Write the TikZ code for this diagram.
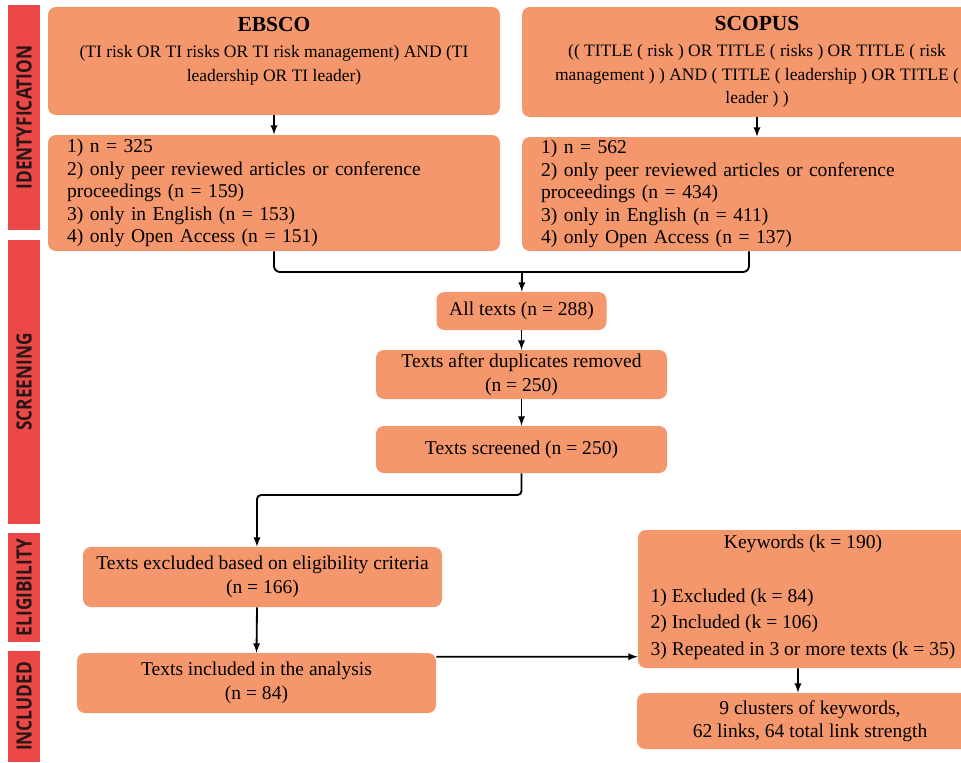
\documentclass[tikz,border=0pt]{standalone}
\usepackage{tikz}
\usepackage{fontspec}
\setmainfont{Liberation Serif}
\newfontfamily\barfont[FakeStretch=0.82]{Open Sans}
\usetikzlibrary{arrows}
\definecolor{prisma_orange}{RGB}{244, 151, 108}
\definecolor{prisma_red}{RGB}{236, 72, 72}
\definecolor{prisma_ink}{RGB}{40, 22, 22}
\tikzstyle{bar}=[rectangle,fill=prisma_red,rotate=90,minimum height=0.8cm,
  inner sep=0pt,text=prisma_ink,font=\barfont\bfseries\fontsize{15}{18}\selectfont]
\tikzstyle{box}=[rectangle,rounded corners=0.2cm,fill=prisma_orange,inner sep=0pt,
  align=center,font=\fontsize{13.9}{16.7}\selectfont]
\tikzstyle{listbox}=[box,align=left,inner xsep=0.475cm,font=\fontsize{13.9}{16}\selectfont]
\tikzstyle{query}=[box,font=\fontsize{12.45}{16.7}\selectfont]
\tikzstyle{arr}=[-latex,line width=1.3pt]
\tikzstyle{wire}=[line width=1.3pt]
\tikzstyle{none}=[]

\begin{document}
\begin{tikzpicture}
	\useasboundingbox (0, 0) rectangle (24.025, -19.05);
	\node [style=bar, minimum width=5.625cm] (20) at (0.6, -2.9375) {IDENTYFICATION};
	\node [style=bar, minimum width=7.1cm] (21) at (0.6, -9.55) {SCREENING};
	\node [style=bar, minimum width=2.725cm] (22) at (0.6, -14.6875) {ELIGIBILITY};
	\node [style=bar, minimum width=2.775cm] (23) at (0.6, -17.6625) {INCLUDED};
	\node [style=query, minimum width=11.3cm, minimum height=2.7cm] (0) at (6.85, -1.525) {{\fontsize{15.3}{18}\selectfont\bfseries EBSCO}\\[2pt](TI risk OR TI risks OR TI risk management) AND (TI\\leadership OR TI leader)\\\mbox{}};
	\node [style=query, minimum width=11.75cm, minimum height=2.75cm] (1) at (18.925, -1.55) {{\fontsize{15.3}{18}\selectfont\bfseries SCOPUS}\\[2pt](( TITLE ( risk ) OR TITLE ( risks ) OR TITLE ( risk\\management ) ) AND ( TITLE ( leadership ) OR TITLE (\\leader ) )};
	\node [style=listbox, text width=10.35cm, minimum height=2.9cm] (2) at (6.85, -4.825) {1) n = 325\\2) only peer reviewed articles or conference\\proceedings (n = 159)\\3) only in English (n = 153)\\4) only Open Access (n = 151)};
	\node [style=listbox, text width=10.8cm, minimum height=2.85cm] (3) at (18.925, -4.85) {1) n = 562\\2) only peer reviewed articles or conference\\proceedings (n = 434)\\3) only in English (n = 411)\\4) only Open Access (n = 137)};
	\node [style=box, minimum width=4.25cm, minimum height=0.95cm] (4) at (13.0375, -7.775) {All texts (n = 288)};
	\node [style=box, minimum width=7.275cm, minimum height=1.225cm] (5) at (13.0375, -9.3625) {Texts after duplicates removed\\(n = 250)};
	\node [style=box, minimum width=7.275cm, minimum height=1.175cm] (6) at (13.0375, -11.2375) {Texts screened (n = 250)};
	\node [style=box, minimum width=8.975cm, minimum height=1.5cm] (7) at (6.5625, -14.425) {Texts excluded based on eligibility criteria\\(n = 166)};
	\node [style=box, minimum width=8.975cm, minimum height=1.5cm] (8) at (6.4125, -17.075) {Texts included in the analysis\\(n = 84)};
	\node [style=box, minimum width=8.25cm, minimum height=3.45cm, font=\fontsize{13.9}{18.85}\selectfont] (9) at (20.075, -14.975) {Keywords (k = 190)\\[19.5pt]\begin{tabular}[t]{@{}l@{}}1) Excluded (k = 84)\\2) Included (k = 106)\\3) Repeated in 3 or more texts (k = 35)\end{tabular}};
	\node [style=box, minimum width=8.65cm, minimum height=1.4cm] (10) at (20.25, -18.025) {9 clusters of keywords,\\62 links, 64 total link strength};
	\coordinate (11) at (13.05, -6.8);
	\coordinate (13) at (6.425, -12.375);
	\draw [style=arr] (0) to (2);
	\draw [style=arr] (1) to (3);
	\draw [style=wire, rounded corners=0.15cm] (2.south) |- (11);
	\draw [style=wire, rounded corners=0.15cm] ([xshift=-0.2cm]3.south) |- (11);
	\draw [style=arr] (11) to (4);
	\draw [style=arr] (4) to (5);
	\draw [style=arr] (5) to (6);
	\draw [style=arr] (6.south) [rounded corners=0.1cm] |- (13) [rounded corners=0.5cm] -- ([xshift=-0.1375cm]7.north);
	\draw [style=arr] ([xshift=-0.1375cm]7.south) to (8.north);
	\draw [style=arr] ([yshift=-0.1cm]8.north east) to ([yshift=-3.175cm]9.north west);
	\draw [style=arr] ([xshift=-0.125cm]9.south) to ([xshift=-0.3cm]10.north);
\end{tikzpicture}
\end{document}
